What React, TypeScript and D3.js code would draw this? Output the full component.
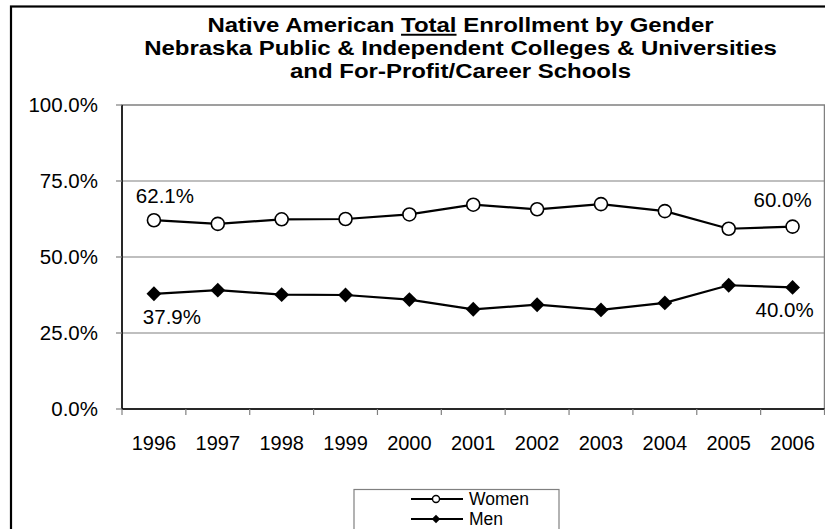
import React from "react";
import * as d3 from "d3";

const years = ["1996","1997","1998","1999","2000","2001","2002","2003","2004","2005","2006"];
const women = [62.1, 60.9, 62.4, 62.5, 64.0, 67.2, 65.7, 67.4, 65.1, 59.3, 60.0];
const men = [37.9, 39.1, 37.6, 37.5, 36.0, 32.8, 34.3, 32.6, 34.9, 40.7, 40.0];
const yTicks = [0, 25, 50, 75, 100];
const titleLines = ["Nebraska Public & Independent Colleges & Universities", "and For-Profit/Career Schools"];

const FONT = "Arial, 'Liberation Sans', sans-serif";

export default function App() {
  const W = 825, H = 529;
  const left = 122, right = 824.5, top = 105, bottom = 409;
  const x = d3.scaleBand<string>().domain(years).range([left, right]);
  const y = d3.scaleLinear().domain([0, 100]).range([bottom, top]);
  const cx = (i: number) => (x(years[i]) as number) + x.bandwidth() / 2;
  const line = d3.line<number>().x((_, i) => cx(i)).y((d) => y(d));
  const diamond = d3.symbol().type(d3.symbolSquare).size(110)();
  const diamondSmall = d3.symbol().type(d3.symbolSquare).size(36)();
  const tickEdges = d3.range(years.length + 1).map((i) => left + i * x.bandwidth());
  const TF = 19.5;
  const SX = 1.23;

  return (
    <svg width={W} height={H} style={{ position: "absolute", left: 0, top: 0, background: "#fff" }} fontFamily={FONT}>
      <rect x={0} y={0} width={W} height={H} fill="#fff" />
      <rect x={11} y={6.5} width={900} height={600} fill="none" stroke="#000" strokeWidth={2.2} />
      {/* Title */}
      <g transform={`translate(460.5,0) scale(${SX},1)`}>
        <text x={0} y={32} textAnchor="middle" fontSize={TF} fontWeight="bold">
          <tspan>Native American </tspan>
          <tspan textDecoration="underline" style={{ textDecoration: "underline" }}>Total</tspan>
          <tspan> Enrollment by Gender</tspan>
        </text>
        {titleLines.map((t, i) => (
          <text key={t} x={0} y={55 + i * 23} textAnchor="middle" fontSize={TF} fontWeight="bold">{t}</text>
        ))}
      </g>
      {/* grid */}
      {yTicks.filter((t) => t > 0 && t < 100).map((t) => (
        <line key={t} x1={left} x2={right} y1={y(t)} y2={y(t)} stroke="#808080" strokeWidth={1.2} />
      ))}
      <rect x={left} y={top} width={right - left} height={bottom - top} fill="none" stroke="#808080" strokeWidth={1.5} />
      {/* axes */}
      <line x1={left} x2={left} y1={top} y2={bottom} stroke="#000" strokeWidth={1.5} />
      <line x1={left} x2={right} y1={bottom} y2={bottom} stroke="#000" strokeWidth={1.5} />
      {yTicks.map((t) => (
        <g key={t}>
          <line x1={left - 6} x2={left} y1={y(t)} y2={y(t)} stroke="#808080" strokeWidth={1.2} />
          <text x={98} y={y(t)} dy="0.36em" textAnchor="end" fontSize={20.5}>{t.toFixed(1)}%</text>
        </g>
      ))}
      {tickEdges.map((e, i) => (
        <line key={i} x1={e} x2={e} y1={bottom} y2={bottom + 6} stroke="#808080" strokeWidth={1.2} />
      ))}
      {years.map((yr, i) => (
        <text key={yr} x={cx(i)} y={443} dy="0.36em" textAnchor="middle" fontSize={20}>{yr}</text>
      ))}
      {/* series */}
      <path d={line(women) as string} fill="none" stroke="#000" strokeWidth={2.2} />
      <path d={line(men) as string} fill="none" stroke="#000" strokeWidth={2.2} />
      {women.map((v, i) => (
        <circle key={"w" + i} cx={cx(i)} cy={y(v)} r={6.5} fill="#fff" stroke="#000" strokeWidth={1.6} />
      ))}
      {men.map((v, i) => (
        <path key={"m" + i} d={diamond as string} transform={`translate(${cx(i)},${y(v)}) rotate(45)`} fill="#000" />
      ))}
      {/* data labels */}
      <text x={cx(0) + 11} y={y(women[0]) - 25} dy="0.36em" textAnchor="middle" fontSize={20.5}>{women[0].toFixed(1)}%</text>
      <text x={cx(0) + 18} y={y(men[0]) + 23} dy="0.36em" textAnchor="middle" fontSize={20.5}>{men[0].toFixed(1)}%</text>
      <text x={cx(10) - 10} y={y(women[10]) - 27} dy="0.36em" textAnchor="middle" fontSize={20.5}>{women[10].toFixed(1)}%</text>
      <text x={cx(10) - 8} y={y(men[10]) + 22} dy="0.36em" textAnchor="middle" fontSize={20.5}>{men[10].toFixed(1)}%</text>
      {/* legend */}
      <rect x={354} y={489.5} width={205} height={60} fill="#fff" stroke="#808080" strokeWidth={1.2} />
      <line x1={411} x2={463} y1={499} y2={499} stroke="#000" strokeWidth={2.2} />
      <circle cx={436} cy={499} r={3.5} fill="#fff" stroke="#000" strokeWidth={1.4} />
      <text x={469} y={499} dy="0.36em" fontSize={17.5}>Women</text>
      <line x1={411} x2={463} y1={519} y2={519} stroke="#000" strokeWidth={2.2} />
      <path d={diamondSmall as string} transform="translate(436,519) rotate(45)" fill="#000" />
      <text x={469} y={519} dy="0.36em" fontSize={17.5}>Men</text>
    </svg>
  );
}
